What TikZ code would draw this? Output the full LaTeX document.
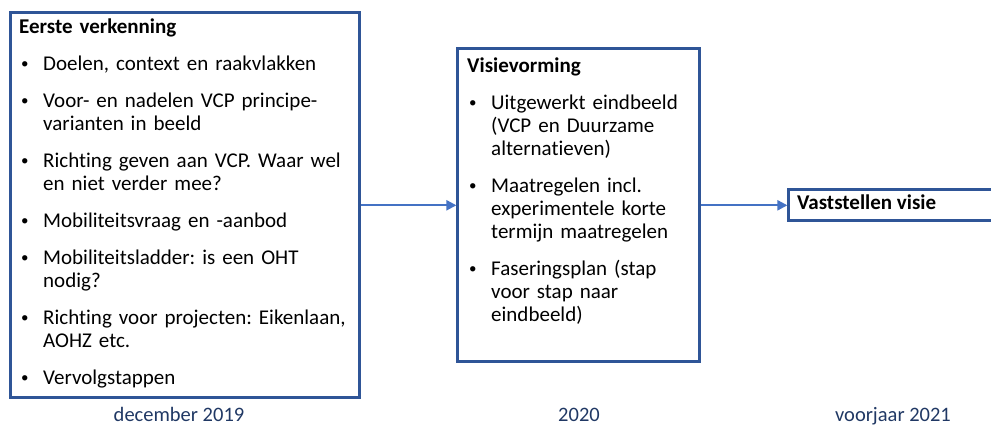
\documentclass[tikz,border=0pt]{standalone}
\usepackage{fontspec}
\setmainfont[Ligatures=NoCommon]{Carlito}
\usetikzlibrary{arrows.meta,positioning}

\definecolor{randblauw}{HTML}{2F5597}
\definecolor{pijlblauw}{HTML}{4472C4}
\definecolor{datumblauw}{HTML}{203864}

% bullet item: small bullet, wrapped lines indented by leftskip
\newcommand{\punt}[1]{\par\vspace{14pt}\leftskip=24pt\noindent
  \llap{\makebox[24pt][l]{\hspace{2pt}\raisebox{1.5pt}{\fontsize{15}{15}\selectfont\textbullet}}}%
  #1}

\begin{document}
\begin{tikzpicture}[
  x=1pt, y=1pt,
  font=\fontsize{21}{23}\selectfont\frenchspacing,
  kader/.style={draw=randblauw, line width=2.8pt, fill=white, inner sep=0pt, anchor=north west},
  inhoud/.style={anchor=north west, inner sep=0pt, text width=#1, align=left},
  datum/.style={anchor=base, text=datumblauw, font=\fontsize{20.5}{24}\selectfont},
  pijl/.style={-{Triangle[length=10pt, width=10pt]}, line width=2.2pt, draw=pijlblauw}
]
\clip (0,0) rectangle (991,-428);

\node[kader, minimum width=349pt, minimum height=385pt] (verk) at (9.4,-11.4) {};
\node[kader, minimum width=242pt, minimum height=313pt] (visie) at (456.4,-47.4) {};
\node[kader, minimum width=230pt, minimum height=31pt] (vast) at (787.4,-188.4) {};

\node[inhoud=338pt] (verktekst) at (19,-18.5) {%
  \textbf{Eerste verkenning}
  \punt{Doelen, context en raakvlakken}
  \punt{Voor- en nadelen VCP principe-\\varianten in beeld}
  \punt{Richting geven aan VCP. Waar wel\\en niet verder mee?}
  \punt{Mobiliteitsvraag en -aanbod}
  \punt{Mobiliteitsladder: is een OHT\\nodig?}
  \punt{Richting voor projecten: Eikenlaan,\\AOHZ etc.}
  \punt{Vervolgstappen}\par};

\node[inhoud=230pt] (visietekst) at (467,-57.5) {%
  \textbf{Visievorming}
  \punt{Uitgewerkt eindbeeld\\(VCP en Duurzame\\alternatieven)}
  \punt{Maatregelen incl.\\experimentele korte\\termijn maatregelen}
  \punt{Faseringsplan (stap\\voor stap naar\\eindbeeld)}\par};

\node[anchor=base west, inner sep=0pt] (vasttekst) at (797,-209) {\textbf{Vaststellen visie}};

\draw[pijl] (verk.east) -- (visie.west);
\draw[pijl] (visie.east) -- (vast.west);

\node[datum] (d1) at (179,-421) {december 2019};
\node[datum] (d2) at (579,-421) {2020};
\node[datum] (d3) at (893,-421) {voorjaar 2021};
\end{tikzpicture}
\end{document}
